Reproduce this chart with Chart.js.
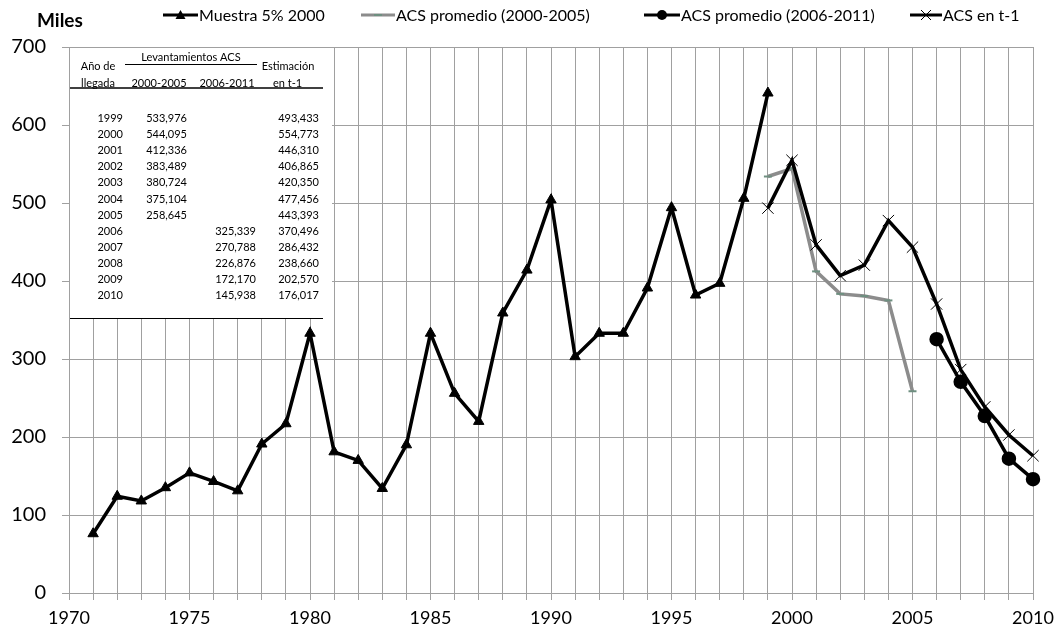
<!DOCTYPE html>
<html>
<head>
<meta charset="utf-8">
<script src="https://cdn.jsdelivr.net/npm/chart.js@4.4.1/dist/chart.umd.min.js"></script>
<style>
  html, body { margin: 0; padding: 0; background: #fff; }
  #wrap { width: 1063px; height: 630px; position: relative; }
</style>
</head>
<body>
<div id="wrap"><canvas id="c" width="1063" height="630"></canvas></div>
<script>
// ---- Data (thousands) ----
const muestraYears = [1971,1972,1973,1974,1975,1976,1977,1978,1979,1980,1981,1982,1983,1984,1985,1986,1987,1988,1989,1990,1991,1992,1993,1994,1995,1996,1997,1998,1999];
const muestraValues = [76,124,118,135,154,143,131,191,217,333,181,170,134,190,333,256,220,359,414,504,303,333,333,391,494,382,397,506,641];

const acs1Years = [1999,2000,2001,2002,2003,2004,2005];
const acs1Values = [533.976,544.095,412.336,383.489,380.724,375.104,258.645];

const acs2Years = [2006,2007,2008,2009,2010];
const acs2Values = [325.339,270.788,226.876,172.170,145.938];

const t1Years = [1999,2000,2001,2002,2003,2004,2005,2006,2007,2008,2009,2010];
const t1Values = [493.433,554.773,446.310,406.865,420.350,477.456,443.393,370.496,286.432,238.660,202.570,176.017];

const seriesNames = ["Muestra 5% 2000","ACS promedio (2000-2005)","ACS promedio (2006-2011)","ACS en t-1"];
const yTickLabels = [0,100,200,300,400,500,600,700];
const xTickLabels = [1970,1975,1980,1985,1990,1995,2000,2005,2010];
const unitLabel = "Miles";
const tableHeader = { arrival: ["Año de","llegada"], group: "Levantamientos ACS", col1: "2000-2005", col2: "2006-2011", est: ["Estimación","en t-1"] };

const toXY = (xs, ys) => xs.map((x, i) => ({ x: x, y: ys[i] }));
const fmt = v => Math.round(v * 1000).toLocaleString('en-US');

const FONT = 'Lato, "Open Sans", sans-serif';
const GRID = '#a0a0a0';

const overlay = {
  id: 'overlay',
  beforeDatasetsDraw(chart) {
    const ctx = chart.ctx;
    const ca = chart.chartArea;
    const L = ca.left, T = ca.top;
    ctx.save();
    // white inset box
    ctx.fillStyle = '#fff';
    ctx.fillRect(L + 1, T + 1, 262, 271);
    ctx.fillStyle = '#000';
    ctx.strokeStyle = '#000';
    ctx.font = '11px ' + FONT;
    ctx.textBaseline = 'middle';
    ctx.textAlign = 'center';
    ctx.fillText(tableHeader.arrival[0], L + 29, T + 19);
    ctx.fillText(tableHeader.arrival[1], L + 29, T + 36);
    ctx.fillText(tableHeader.group, L + 122, T + 10);
    ctx.fillText(tableHeader.col1, L + 90, T + 36);
    ctx.fillText(tableHeader.col2, L + 158, T + 36);
    ctx.fillText(tableHeader.est[0], L + 219, T + 19);
    ctx.textAlign = 'left';
    ctx.fillText(tableHeader.est[1], L + 204, T + 36);
    // rules
    ctx.lineWidth = 1;
    ctx.beginPath();
    ctx.moveTo(L + 56, T + 17.5); ctx.lineTo(L + 188, T + 17.5);
    ctx.stroke();
    ctx.lineWidth = 1.5;
    ctx.beginPath();
    ctx.moveTo(L + 1, T + 41); ctx.lineTo(L + 254, T + 41);
    ctx.stroke();
    ctx.lineWidth = 1;
    ctx.beginPath();
    ctx.moveTo(L + 1, T + 271.5); ctx.lineTo(L + 254, T + 271.5);
    ctx.stroke();
    // rows
    ctx.textAlign = 'right';
    t1Years.forEach((yr, i) => {
      const y = T + 71.5 + i * 16.1;
      ctx.fillText(String(yr), L + 54, y);
      const a1 = acs1Years.indexOf(yr);
      if (a1 >= 0) ctx.fillText(fmt(acs1Values[a1]), L + 118, y);
      const a2 = acs2Years.indexOf(yr);
      if (a2 >= 0) ctx.fillText(fmt(acs2Values[a2]), L + 187, y);
      ctx.fillText(fmt(t1Values[i]), L + 250, y);
    });
    ctx.restore();
  },
  afterDraw(chart) {
    const ctx = chart.ctx;
    ctx.save();
    ctx.fillStyle = '#000';
    ctx.textBaseline = 'middle';
    ctx.textAlign = 'left';
    ctx.font = 'bold 19px ' + FONT;
    ctx.fillText(unitLabel, 37, 21);
    ctx.font = '16px ' + FONT;
    const items = [
      { x1: 163, x2: 198, color: '#000', style: 'triangle', name: seriesNames[0] },
      { x1: 361, x2: 395, color: '#8c8c8c', style: 'dash', name: seriesNames[1] },
      { x1: 644, x2: 680, color: '#000', style: 'circle', name: seriesNames[2] },
      { x1: 910, x2: 942, color: '#000', style: 'cross', name: seriesNames[3] }
    ];
    const y = 15;
    items.forEach(it => {
      ctx.strokeStyle = it.color;
      ctx.lineWidth = 3;
      ctx.beginPath(); ctx.moveTo(it.x1, y); ctx.lineTo(it.x2, y); ctx.stroke();
      const cx = (it.x1 + it.x2) / 2;
      ctx.fillStyle = '#000';
      if (it.style === 'triangle') {
        ctx.beginPath(); ctx.moveTo(cx, y - 5); ctx.lineTo(cx + 5, y + 4); ctx.lineTo(cx - 5, y + 4); ctx.closePath(); ctx.fill();
      } else if (it.style === 'circle') {
        ctx.beginPath(); ctx.arc(cx, y, 5, 0, Math.PI * 2); ctx.fill();
      } else if (it.style === 'cross') {
        ctx.lineWidth = 1; ctx.beginPath();
        ctx.moveTo(cx - 5, y - 5); ctx.lineTo(cx + 5, y + 5);
        ctx.moveTo(cx + 5, y - 5); ctx.lineTo(cx - 5, y + 5); ctx.stroke();
      } else if (it.style === 'dash') {
        ctx.strokeStyle = '#6e8f80'; ctx.lineWidth = 2; ctx.beginPath();
        ctx.moveTo(cx - 4, y); ctx.lineTo(cx + 4, y); ctx.stroke();
      }
      ctx.fillStyle = '#000';
      ctx.fillText(it.name, it.x2 + 1, y + 1);
    });
    ctx.restore();
  }
};

new Chart(document.getElementById('c'), {
  type: 'line',
  data: {
    datasets: [
      { label: seriesNames[0], data: toXY(muestraYears, muestraValues), borderColor: '#000', backgroundColor: '#000', borderWidth: 3.5, pointStyle: 'triangle', pointRadius: 6, pointBorderWidth: 1, order: 4, clip: false },
      { label: seriesNames[1], data: toXY(acs1Years, acs1Values), borderColor: '#8c8c8c', backgroundColor: '#6e8f80', borderWidth: 3.5, pointStyle: 'line', pointRadius: 4, pointBorderColor: '#6e8f80', pointBorderWidth: 2, order: 3, clip: false },
      { label: seriesNames[2], data: toXY(acs2Years, acs2Values), borderColor: '#000', backgroundColor: '#000', borderWidth: 3.5, pointStyle: 'circle', pointRadius: 5.5, order: 2, clip: false },
      { label: seriesNames[3], data: toXY(t1Years, t1Values), borderColor: '#000', backgroundColor: '#000', borderWidth: 3.5, pointStyle: 'crossRot', pointRadius: 8, pointBorderWidth: 1, order: 1, clip: false }
    ]
  },
  options: {
    responsive: false,
    animation: false,
    devicePixelRatio: 1,
    layout: { padding: { top: 47, right: 30, bottom: 0, left: 0 } },
    plugins: { legend: { display: false }, tooltip: { enabled: false }, title: { display: false } },
    elements: { line: { tension: 0 } },
    scales: {
      x: {
        type: 'linear', min: 1970, max: 2010,
        afterBuildTicks(s) { s.ticks = []; for (let v = 1970; v <= 2010; v++) s.ticks.push({ value: v }); },
        ticks: { autoSkip: false, maxRotation: 0, padding: 7, color: '#000', font: { family: FONT, size: 18 },
          callback: v => xTickLabels.includes(v) ? String(v) : '' },
        grid: { color: GRID, lineWidth: 1, tickLength: 7 },
        border: { color: GRID, width: 1 },
        afterFit(s) { s.height = 37; }
      },
      y: {
        min: 0, max: 700,
        afterBuildTicks(s) { s.ticks = yTickLabels.map(v => ({ value: v })); },
        ticks: { padding: 16, color: '#000', font: { family: FONT, size: 20 }, callback: v => String(v) },
        grid: { color: GRID, lineWidth: 1, tickLength: 7 },
        border: { color: GRID, width: 1 },
        afterFit(s) { s.width = 69; }
      }
    }
  },
  plugins: [overlay]
});
</script>
</body>
</html>
